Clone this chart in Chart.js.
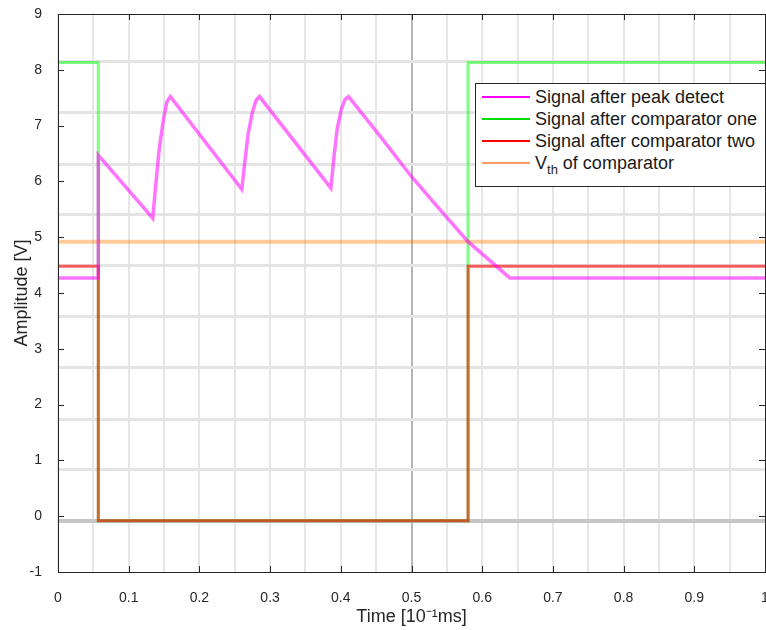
<!DOCTYPE html>
<html>
<head>
<meta charset="utf-8">
<title>Peak detect and comparators</title>
<script src="https://cdn.jsdelivr.net/npm/chart.js@4.4.1/dist/chart.umd.min.js"></script>
<style>
  html, body { margin: 0; padding: 0; background: #fff; overflow: hidden; }
  #wrap { position: relative; width: 766px; height: 630px; }
  #legend {
    position: absolute; left: 475px; top: 83px; width: 291px; height: 104px;
    box-sizing: border-box; border: 1px solid #262626; background: #fff;
    padding-top: 2px; font: 18px "Liberation Sans", Arial, sans-serif; color: #1a1a1a;
  }
  #legend .row { height: 22px; line-height: 22px; display: flex; align-items: center; white-space: nowrap; }
  #legend .swatch { display: block; width: 48px; height: 0; border-top-width: 2px; border-top-style: solid; margin: 0 5px 0 6px; }
  #legend sub { font-size: 13px; line-height: 0; vertical-align: -5px; }
</style>
</head>
<body>
<div id="wrap">
  <canvas id="myChart"></canvas>
  <div id="legend"></div>
</div>
<script>
// series (time in 10^-1 ms, amplitude in V)
const peakX = [0, 0.057, 0.057, 0.134, 0.138, 0.143, 0.149, 0.154, 0.159, 0.260, 0.264, 0.269, 0.275, 0.280, 0.285, 0.386, 0.390, 0.395, 0.401, 0.406, 0.411, 0.450, 0.501, 0.540, 0.580, 0.639, 1];
const peakY = [4.27, 4.27, 6.47, 5.34, 5.90, 6.56, 7.10, 7.43, 7.52, 5.86, 6.32, 6.86, 7.24, 7.45, 7.52, 5.88, 6.40, 6.95, 7.30, 7.47, 7.52, 6.90, 6.07, 5.50, 4.92, 4.27, 4.27];

const comp1X = [0, 0.057, 0.057, 0.580, 0.580, 1];
const comp1Y = [8.13, 8.13, -0.08, -0.08, 8.13, 8.13];

const comp2X = [0, 0.057, 0.057, 0.580, 0.580, 1];
const comp2Y = [4.48, 4.48, -0.08, -0.08, 4.48, 4.48];

const vthX = [0, 1];
const vthY = [4.92, 4.92];

// axis ticks
const xTicks = [0, 0.1, 0.2, 0.3, 0.4, 0.5, 0.6, 0.7, 0.8, 0.9, 1];
const yTicks = [-1, 0, 1, 2, 3, 4, 5, 6, 7, 8, 9];

// grid lines as they sit in the picture
const gridX = [0, 0.05, 0.1, 0.15, 0.2, 0.25, 0.3, 0.35, 0.4, 0.45, 0.5, 0.55, 0.6, 0.65, 0.7, 0.75, 0.8, 0.85, 0.9, 0.95];
const gridY = [-0.08, 0.83, 1.74, 2.66, 3.57, 4.49, 5.40, 6.31, 7.23, 8.14];

const legendLabels = ['Signal after peak detect', 'Signal after comparator one', 'Signal after comparator two', 'V<sub>th</sub> of comparator'];
const legendColors = ['#ff00ff', '#00dd00', '#ff0000', '#ff9a66'];

function pts(xs, ys) {
  return xs.map((x, i) => ({ x: x, y: ys[i] }));
}

const legend = document.getElementById('legend');
legendLabels.forEach((lab, i) => {
  const row = document.createElement('div');
  row.className = 'row';
  const sw = document.createElement('span');
  sw.className = 'swatch';
  sw.style.borderTopColor = legendColors[i];
  const txt = document.createElement('span');
  txt.innerHTML = lab;
  row.appendChild(sw);
  row.appendChild(txt);
  legend.appendChild(row);
});

const tickColor = '#262626';
const fontFam = '"Liberation Sans", Arial, sans-serif';

// box round the plot with inward ticks
const boxPlugin = {
  id: 'box',
  afterDraw(chart) {
    const { ctx, chartArea: a, scales } = chart;
    ctx.save();
    ctx.strokeStyle = tickColor;
    ctx.lineWidth = 1;
    ctx.strokeRect(a.left + 0.5, a.top + 0.5, a.right - a.left, a.bottom - a.top);
    ctx.beginPath();
    scales.x.ticks.forEach(t => {
      const p = Math.round(scales.x.getPixelForValue(t.value)) + 0.5;
      ctx.moveTo(p, a.bottom); ctx.lineTo(p, a.bottom - 6);
      ctx.moveTo(p, a.top); ctx.lineTo(p, a.top + 6);
    });
    scales.y.ticks.forEach(t => {
      const p = Math.round(scales.y.getPixelForValue(t.value)) + 0.5;
      ctx.moveTo(a.left, p); ctx.lineTo(a.left + 6, p);
      ctx.moveTo(a.right, p); ctx.lineTo(a.right - 6, p);
    });
    ctx.stroke();
    ctx.restore();
  }
};

const ctx = document.getElementById('myChart').getContext('2d');
const myChart = new Chart(ctx, {
  type: 'line',
  data: {
    datasets: [
      { label: 'Signal after peak detect', data: pts(peakX, peakY), borderColor: 'rgba(255,0,255,0.55)', borderWidth: 3.5 },
      { label: 'Vth of comparator', data: pts(vthX, vthY), borderColor: 'rgba(255,128,0,0.4)', borderWidth: 4 },
      { label: 'Signal after comparator two', data: pts(comp2X, comp2Y), borderColor: 'rgba(255,0,0,0.6)', borderWidth: 3 },
      { label: 'Signal after comparator one', data: pts(comp1X, comp1Y), borderColor: 'rgba(0,255,0,0.5)', borderWidth: 3 }
    ]
  },
  options: {
    responsive: true,
    maintainAspectRatio: false,
    animation: false,
    layout: { padding: { top: 14, right: 1, bottom: 0, left: 0 } },
    elements: { point: { radius: 0 }, line: { tension: 0, fill: false } },
    plugins: { legend: { display: false }, tooltip: { enabled: false } },
    scales: {
      xg: {
        type: 'linear', position: 'bottom', min: 0, max: 1,
        afterBuildTicks: s => { s.ticks = gridX.map(v => ({ value: v })); },
        afterFit: s => { s.height = 0; },
        ticks: { display: false },
        border: { display: false },
        grid: {
          drawTicks: false,
          color: c => (c.tick && c.tick.value === 0.5) ? '#b5b5b5' : '#e6e6e6',
          lineWidth: 2
        }
      },
      yg: {
        type: 'linear', position: 'left', min: -1, max: 9,
        afterBuildTicks: s => { s.ticks = gridY.map(v => ({ value: v })); },
        afterFit: s => { s.width = 0; },
        ticks: { display: false },
        border: { display: false },
        grid: {
          drawTicks: false,
          color: c => (c.tick && c.tick.value === -0.08) ? '#c6c6c6' : '#e4e4e4',
          lineWidth: c => (c.tick && c.tick.value === -0.08) ? 4 : 3
        }
      },
      x: {
        type: 'linear', position: 'bottom', min: 0, max: 1,
        afterBuildTicks: s => { s.ticks = xTicks.map(v => ({ value: v })); },
        afterFit: s => { s.height = 58; s.paddingLeft = 0; s.paddingRight = 0; },
        ticks: { autoSkip: false, maxRotation: 0, padding: 10, color: tickColor, font: { family: fontFam, size: 14 }, callback: v => String(v) },
        border: { display: false },
        grid: { display: false },
        title: { display: true, text: 'Time [10⁻¹ms]', color: tickColor, font: { family: fontFam, size: 18 }, padding: { top: 0, bottom: 2 } }
      },
      y: {
        type: 'linear', position: 'left', min: -1, max: 9,
        afterBuildTicks: s => { s.ticks = yTicks.map(v => ({ value: v })); },
        afterFit: s => { s.width = 58; s.paddingTop = 0; s.paddingBottom = 0; },
        ticks: { padding: 8, color: tickColor, font: { family: fontFam, size: 14 }, callback: v => String(v) },
        border: { display: false },
        grid: { display: false },
        title: { display: true, text: 'Amplitude [V]', color: tickColor, font: { family: fontFam, size: 18 }, padding: { top: 11, bottom: 0 } }
      }
    }
  },
  plugins: [boxPlugin]
});
</script>
</body>
</html>
